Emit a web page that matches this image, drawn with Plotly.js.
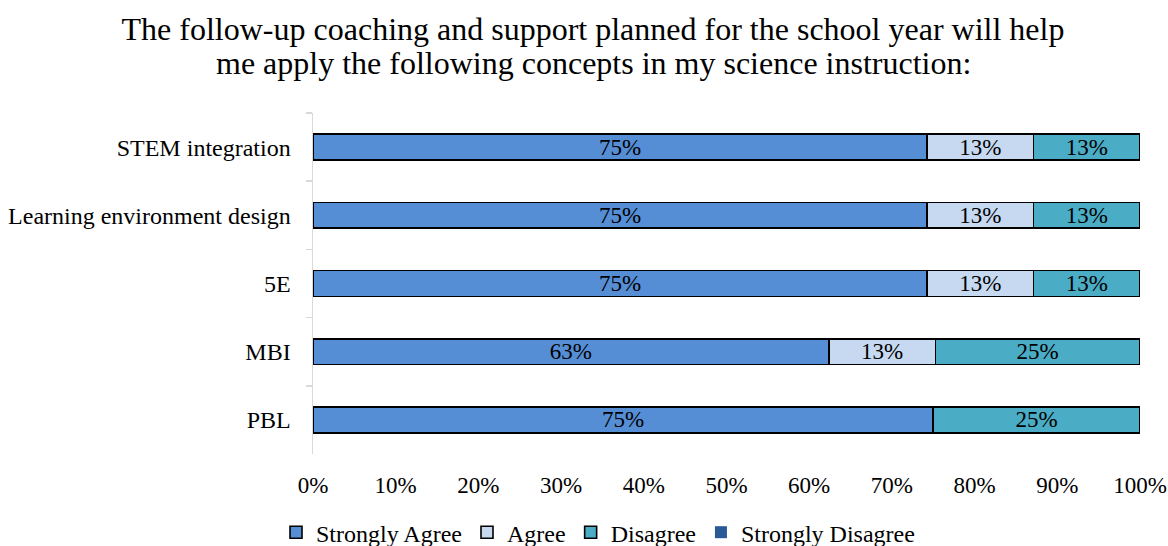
<!DOCTYPE html>
<html>
<head>
<meta charset="utf-8">
<script src="https://cdn.plot.ly/plotly-3.0.1.min.js"></script>
<style>html,body{margin:0;padding:0;background:#fff;}#chart{width:1168px;height:546px;}</style>
</head>
<body>
<div id="chart"></div>
<script>
const categories = ["STEM integration", "Learning environment design", "5E", "MBI", "PBL"];
const seriesNames = ["Strongly Agree", "Agree", "Disagree", "Strongly Disagree"];
const stronglyAgree = [75, 75, 75, 63, 75];
const agree = [13, 13, 13, 13, 0];
const disagree = [13, 13, 13, 25, 25];
const stronglyDisagree = [0, 0, 0, 0, 0];
const colors = ["#558ED5", "#C6D9F1", "#4BACC6", "#2A5A96"];
const xTickVals = [0, 10, 20, 30, 40, 50, 60, 70, 80, 90, 100];
const xTickText = ["0%", "10%", "20%", "30%", "40%", "50%", "60%", "70%", "80%", "90%", "100%"];
const titleLines = [
  "The follow-up coaching and support planned for the school year will help",
  "me apply the following concepts in my science instruction:"
];

const seriesValues = [stronglyAgree, agree, disagree, stronglyDisagree];
const FONT = "'Liberation Serif', 'Times New Roman', serif";
const FS = 23;

const traces = seriesValues.map((vals, i) => ({
  type: "bar",
  orientation: "h",
  name: seriesNames[i],
  y: categories,
  x: vals,
  text: vals.map(v => v > 0 ? v + "%" : ""),
  textposition: "inside",
  insidetextanchor: "middle",
  constraintext: "none",
  textfont: {family: FONT, size: FS, color: "#000"},
  hoverinfo: "skip",
  width: 0.38,
  marker: {
    color: colors[i],
    line: {color: i === 3 ? "rgba(0,0,0,0)" : "#000", width: i === 3 ? 0 : 1.6}
  }
}));

const layout = {
  width: 1168,
  height: 546,
  paper_bgcolor: "#fff",
  plot_bgcolor: "#fff",
  barmode: "stack",
  barnorm: "percent",
  margin: {l: 313, r: 28, t: 113, b: 92, autoexpand: false},
  font: {family: FONT, size: FS, color: "#000"},
  title: {
    text: titleLines[0],
    font: {family: FONT, size: 32, color: "#000"},
    x: 0.5077,
    xanchor: "center",
    xref: "container",
    yref: "container",
    y: 0.9469,
    yanchor: "middle"
  },
  annotations: [{
    text: titleLines[1],
    font: {family: FONT, size: 32, color: "#000"},
    xref: "paper",
    yref: "paper",
    x: 0.3386,
    y: 1.1466,
    xanchor: "center",
    yanchor: "middle",
    showarrow: false
  }],
  xaxis: {
    range: [0, 100],
    tickvals: xTickVals,
    ticktext: xTickText,
    showgrid: false,
    zeroline: false,
    showline: false,
    ticks: "outside",
    ticklen: 10,
    tickcolor: "rgba(0,0,0,0)",
    tickfont: {family: FONT, size: FS, color: "#000"},
    fixedrange: true
  },
  yaxis: {
    type: "category",
    autorange: "reversed",
    showgrid: false,
    zeroline: false,
    showline: true,
    linecolor: "#d9d9d9",
    linewidth: 1.5,
    ticks: "outside",
    tickson: "boundaries",
    ticklen: 6,
    tickcolor: "#d9d9d9",
    tickwidth: 1.5,
    ticklabelstandoff: 16,
    tickfont: {family: FONT, size: 24, color: "#000"},
    fixedrange: true
  },
  legend: {
    orientation: "h",
    x: 0.512,
    xanchor: "center",
    xref: "container",
    yref: "paper",
    y: -0.1645,
    yanchor: "top",
    font: {family: FONT, size: 24, color: "#000"},
    traceorder: "normal",
    itemwidth: 30,
    tracegroupgap: 0
  },
  showlegend: true
};

Plotly.newPlot("chart", traces, layout, {displayModeBar: false, staticPlot: true});
</script>
</body>
</html>
